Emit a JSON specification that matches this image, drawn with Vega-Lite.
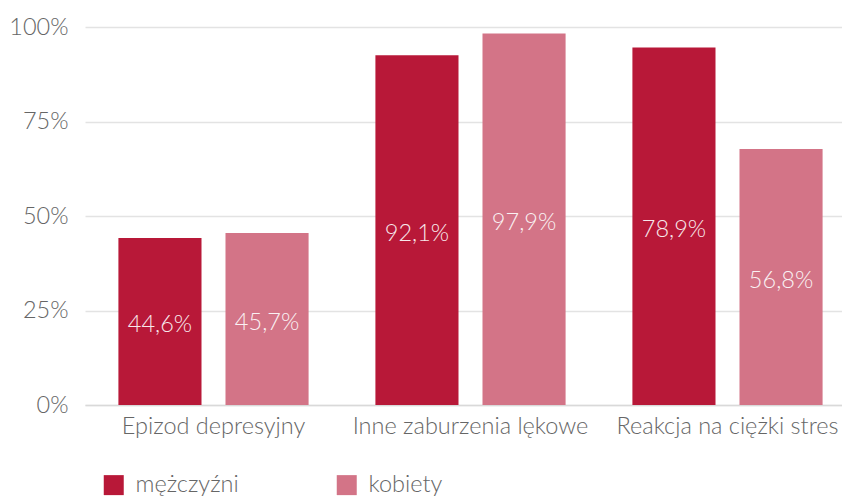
{
  "$schema": "https://vega.github.io/schema/vega-lite/v6.json",
  "width": 771,
  "height": 378,
  "autosize": "none",
  "padding": {"left": 85, "top": 27, "right": 0, "bottom": 92},
  "background": "white",
  "config": {
    "font": "Lato",
    "view": {"stroke": null},
    "axis": {"labelFont": "Lato", "labelFontWeight": 300, "labelFontSize": 23.5, "labelColor": "#666666", "labelLimit": 0},
    "legend": {"labelFont": "Lato", "labelFontWeight": 300, "labelFontSize": 23.5, "labelColor": "#666666", "labelLimit": 0}
  },
  "data": {
    "values": [
      {"kategoria": "Epizod depresyjny", "plec": "mężczyźni", "wartosc": 0.442, "etykieta": "44,6%"},
      {"kategoria": "Epizod depresyjny", "plec": "kobiety", "wartosc": 0.455, "etykieta": "45,7%"},
      {"kategoria": "Inne zaburzenia lękowe", "plec": "mężczyźni", "wartosc": 0.925, "etykieta": "92,1%"},
      {"kategoria": "Inne zaburzenia lękowe", "plec": "kobiety", "wartosc": 0.983, "etykieta": "97,9%"},
      {"kategoria": "Reakcja na ciężki stres", "plec": "mężczyźni", "wartosc": 0.946, "etykieta": "78,9%"},
      {"kategoria": "Reakcja na ciężki stres", "plec": "kobiety", "wartosc": 0.677, "etykieta": "56,8%"}
    ]
  },
  "encoding": {
    "x": {
      "field": "kategoria", "type": "nominal", "sort": null, "title": null,
      "scale": {"paddingInner": 0.26, "paddingOuter": 0.13},
      "axis": {"labelAngle": 0, "ticks": false, "labelPadding": 9, "labelLimit": 0, "domainColor": "#d9d9d9", "domainWidth": 1.5, "grid": false}
    },
    "xOffset": {"field": "plec", "type": "nominal", "sort": ["mężczyźni", "kobiety"], "scale": {"paddingInner": 0.224, "paddingOuter": 0}}
  },
  "layer": [
    {
      "mark": {"type": "bar"},
      "encoding": {
        "y": {
          "field": "wartosc", "type": "quantitative", "title": null,
          "scale": {"domain": [0, 1], "nice": false},
          "axis": {"values": [0, 0.25, 0.5, 0.75, 1], "format": ".0%", "domain": false, "ticks": false, "labelPadding": 17, "gridColor": "#e3e3e3", "gridWidth": 1.5}
        },
        "color": {
          "field": "plec", "type": "nominal", "sort": ["mężczyźni", "kobiety"],
          "scale": {"domain": ["mężczyźni", "kobiety"], "range": ["#b81838", "#d37487"]},
          "legend": {
            "title": null, "orient": "none", "direction": "horizontal",
            "legendX": 17, "legendY": 446,
            "symbolType": "square", "symbolSize": 400, "symbolStrokeWidth": 0, "symbolOpacity": 1,
            "labelOffset": 10, "columnPadding": 96, "labelLimit": 0
          }
        }
      }
    },
    {
      "transform": [{"calculate": "datum.wartosc / 2", "as": "srodek"}],
      "mark": {"type": "text", "fontSize": 23.5, "fontWeight": 300, "color": "white", "opacity": 0.9, "baseline": "middle", "dy": 4},
      "encoding": {
        "y": {"field": "srodek", "type": "quantitative"},
        "text": {"field": "etykieta"}
      }
    }
  ]
}
